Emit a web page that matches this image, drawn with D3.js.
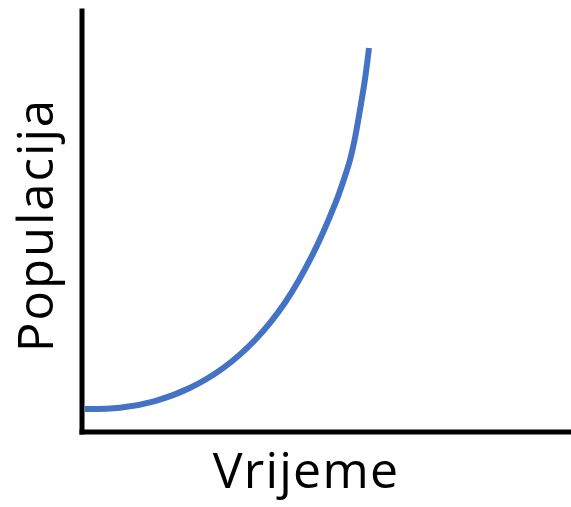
<!DOCTYPE html>
<html>
<head>
<meta charset="utf-8">
<script src="https://cdn.jsdelivr.net/npm/d3@7"></script>
<style>
  html, body { margin: 0; padding: 0; background: #fff; }
  svg { display: block; }
</style>
</head>
<body>
<svg id="chart" width="571" height="507"></svg>
<script>
// Data (arbitrary units: time vs population)
const time = [0.72, 7.84, 15.02, 22.10, 28.99, 35.55, 41.63, 47.13, 51.89, 53.97, 54.85, 55.87, 56.89, 57.92, 58.73];
const population = [5.34, 5.63, 7.24, 10.33, 15.11, 21.85, 30.69, 41.81, 54.28, 61.16, 64.49, 69.71, 76.37, 83.73, 91.09];
const xLabel = "Vrijeme";
const yLabel = "Populacija";

const svg = d3.select("#chart");
const x = d3.scaleLinear().domain([0, 100]).range([81.5, 571]);
const y = d3.scaleLinear().domain([0, 100]).range([431.5, 10.5]);

const pts = time.map((t, i) => [t, population[i]]);

svg.append("path")
  .datum(pts)
  .attr("fill", "none")
  .attr("stroke", "#4472c4")
  .attr("stroke-width", 6)
  .attr("d", d3.line().x(d => x(d[0])).y(d => y(d[1])).curve(d3.curveCatmullRom.alpha(0.5)));

const xAxis = svg.append("g")
  .attr("transform", `translate(0,${y(0)})`)
  .call(d3.axisBottom(x).ticks(0).tickSizeOuter(0));
const yAxis = svg.append("g")
  .attr("transform", `translate(${x(0)},0)`)
  .call(d3.axisLeft(y).ticks(0).tickSizeOuter(0));
[xAxis, yAxis].forEach(g => g.select(".domain")
  .attr("stroke", "#000")
  .attr("stroke-width", 5)
  .attr("stroke-linecap", "square"));

svg.append("text")
  .attr("x", 306)
  .attr("y", 488)
  .attr("text-anchor", "middle")
  .attr("font-family", "Open Sans, sans-serif")
  .attr("font-size", 50)
  .attr("letter-spacing", 1.2)
  .attr("fill", "#000")
  .text(xLabel);

svg.append("text")
  .attr("transform", "translate(53,225) rotate(-90)")
  .attr("text-anchor", "middle")
  .attr("font-family", "Open Sans, sans-serif")
  .attr("font-size", 49)
  .attr("letter-spacing", 2)
  .attr("fill", "#000")
  .text(yLabel);
</script>
</body>
</html>
